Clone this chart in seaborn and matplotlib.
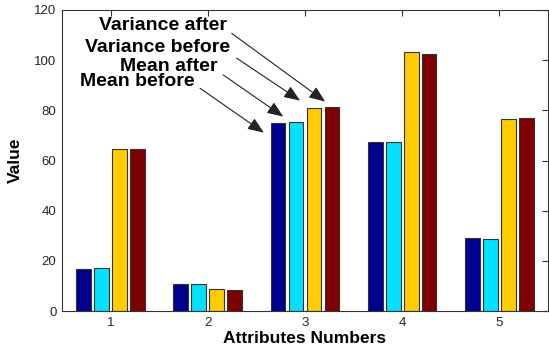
import matplotlib
matplotlib.use("Agg")
import matplotlib.pyplot as plt
import seaborn as sns
import pandas as pd

attributes = ["1", "2", "3", "4", "5"]
series_names = ["Mean before", "Mean after", "Variance before", "Variance after"]
mean_before = [16.7, 10.6, 74.8, 67.5, 29.0]
mean_after = [17.0, 10.6, 75.4, 67.5, 28.6]
variance_before = [64.7, 8.6, 80.9, 103.1, 76.7]
variance_after = [64.7, 8.2, 81.3, 102.5, 77.1]
y_ticks = [0, 20, 40, 60, 80, 100, 120]

colors = ["#00008F", "#00E2FF", "#FFCC00", "#7F0000"]

rows = []
for name, vals in zip(series_names, [mean_before, mean_after, variance_before, variance_after]):
    for a, v in zip(attributes, vals):
        rows.append({"Attribute": a, "Value": v, "Series": name})
df = pd.DataFrame(rows)

sns.set_theme(style="white")
plt.rcParams["font.family"] = ["Liberation Sans", "DejaVu Sans"]

fig = plt.figure(figsize=(5.49, 3.47), dpi=100)
ax = fig.add_axes([0.113, 0.1037, 0.885, 0.8675])

sns.barplot(data=df, x="Attribute", y="Value", hue="Series", order=attributes,
            hue_order=series_names, palette=colors, width=0.74, gap=0.18,
            edgecolor="#333333", linewidth=0.8, saturation=1, legend=False, ax=ax)

ax.set_xlim(-0.5, 4.5)
ax.set_ylim(0, 120)
ax.set_yticks(y_ticks)
ax.set_xlabel("Attributes Numbers", fontsize=12.5, fontweight="bold", color="black", labelpad=2)
ax.set_ylabel("Value", fontsize=12.5, fontweight="bold", color="black", labelpad=8)
ax.tick_params(direction="in", length=4, width=0.8, top=True, right=True,
               labelsize=9.5, labelcolor="#262626", color="#333333", pad=4)
for s in ax.spines.values():
    s.set_visible(True)
    s.set_color("#333333")
    s.set_linewidth(0.8)

# Annotations pointing to bars of attribute 3
bars = [p for p in ax.patches if p.get_height() > 0]
n = len(attributes)
group = 2
targets = []
for k in range(len(series_names)):
    p = bars[k * n + group]
    targets.append((p.get_x() + p.get_width() / 2, p.get_height()))

labels = [
    ("Mean before", (0.277, 91.3), (0.92, 88.8), (-0.146, -3.7)),
    ("Mean after", (0.601, 97.3), (1.159, 94.1), (-0.131, 2.1)),
    ("Variance before", (0.488, 104.9), (1.297, 100.8), (-0.143, 3.0)),
    ("Variance after", (0.544, 114.0), (1.246, 110.7), (-0.07, 2.2)),
]
for k, (txt, tpos, start, off) in enumerate(labels):
    ax.text(tpos[0], tpos[1], txt, ha="center", va="center", fontsize=14,
            fontweight="bold", color="black")
    tx, ty = targets[k]
    ax.annotate("", xy=(tx + off[0], ty + off[1]), xytext=start,
                arrowprops=dict(arrowstyle="-|>,head_length=0.7,head_width=0.28",
                                color="#222222", lw=0.8, mutation_scale=14,
                                shrinkA=0, shrinkB=0))

fig.savefig("out.png", dpi=100)
